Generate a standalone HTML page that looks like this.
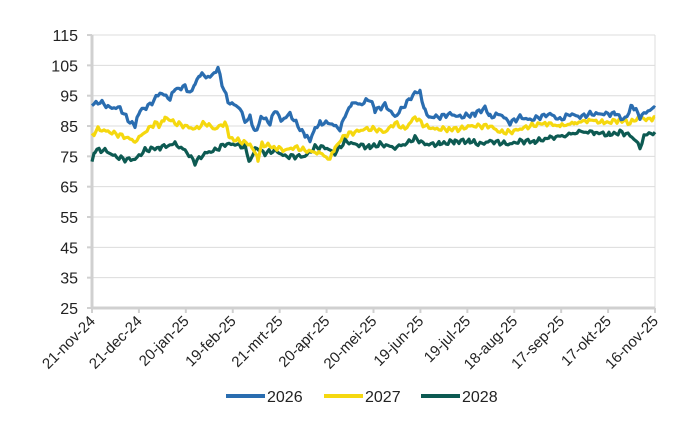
<!DOCTYPE html>
<html><head><meta charset="utf-8"><style>
html,body{margin:0;padding:0;background:#fff;width:700px;height:430px;overflow:hidden}
text{font-family:"Liberation Sans",Arial,sans-serif;fill:#222}
</style></head><body>
<svg id="s" width="700" height="430" xmlns="http://www.w3.org/2000/svg">
<g id="grid"></g>
<g id="series"></g>
<g id="legend">
<line x1="226" y1="396" x2="265" y2="396" stroke="#2a6db0" stroke-width="4"/>
<text x="267" y="402" font-size="16">2026</text>
<line x1="324" y1="396" x2="363" y2="396" stroke="#f5d80f" stroke-width="4"/>
<text x="365" y="402" font-size="16">2027</text>
<line x1="421" y1="396" x2="460" y2="396" stroke="#0d5a52" stroke-width="4"/>
<text x="462" y="402" font-size="16">2028</text>
</g>
</svg>
<script>
var ns="http://www.w3.org/2000/svg";
function el(t,a,p){var e=document.createElementNS(ns,t);for(var k in a)e.setAttribute(k,a[k]);p.appendChild(e);return e;}
var g=document.getElementById('grid');
var X0=92,X1=655;
function Y(v){return 308-(v-25)*3.033;}
for(var v=25;v<=115;v+=10){
  var y=Y(v);
  if(v>25) el('line',{x1:X0,y1:y,x2:X1,y2:y,stroke:'#dcdcdc','stroke-width':1},g);
  el('line',{x1:X0-5,y1:y,x2:X0,y2:y,stroke:'#d0d0d0','stroke-width':2},g);
  var t=el('text',{x:78,y:y+6,'font-size':16,'text-anchor':'end'},g);t.textContent=v;
}
el('line',{x1:X0,y1:Y(115),x2:X0,y2:Y(25),stroke:'#d0d0d0','stroke-width':3},g);
el('line',{x1:X1,y1:Y(115),x2:X1,y2:Y(25),stroke:'#dcdcdc','stroke-width':1},g);
el('line',{x1:X0,y1:Y(25),x2:X1,y2:Y(25),stroke:'#d0d0d0','stroke-width':3},g);
var labs=['21-nov-24','21-dec-24','20-jan-25','19-feb-25','21-mrt-25','20-apr-25','20-mei-25','19-jun-25','19-jul-25','18-aug-25','17-sep-25','17-okt-25','16-nov-25'];
for(var i=0;i<13;i++){
  var x=X0+i*(X1-X0)/12;
  el('line',{x1:x,y1:Y(25),x2:x,y2:Y(25)+5,stroke:'#d0d0d0','stroke-width':2},g);
  var t=el('text',{x:x+4,y:Y(25)+14,'font-size':15,'text-anchor':'end',transform:'rotate(-45 '+(x+4)+' '+(Y(25)+14)+')'},g);t.textContent=labs[i];
}
var d26=[[92,92],[100,93],[110,91],[120,91],[128,87],[135,85],[140,90],[150,92],[160,96],[170,94],[175,97],[185,98],[190,96],[195,99],[200,102],[210,101],[218,104],[222,99],[228,93],[240,91],[245,86],[250,88],[255,83],[262,88],[270,86],[275,90],[282,87],[290,89],[298,85],[305,82],[310,80],[315,84],[320,86],[330,86],[340,84],[345,88],[352,93],[360,92],[370,94],[375,90],[385,92],[395,88],[405,92],[415,96],[420,96],[425,90],[430,88],[440,88],[450,89],[460,88],[475,89],[485,91],[490,88],[500,89],[510,86],[520,88],[530,87],[540,88],[550,89],[560,87],[570,89],[580,88],[590,89],[600,89],[615,89],[625,87],[632,92],[640,88],[648,90],[655,91]];
var d27=[[92,82],[98,84],[110,83],[120,82],[128,81],[135,80],[145,83],[155,86],[160,85],[165,88],[175,86],[185,85],[195,84],[205,86],[215,84],[225,86],[230,81],[240,80],[250,79],[255,76],[258,74],[262,79],[275,78],[285,77],[295,78],[305,77],[320,76],[330,74],[335,78],[345,82],[355,83],[365,84],[375,84],[385,83],[395,86],[405,84],[415,88],[425,85],[435,84],[450,84],[460,84],[470,85],[480,85],[490,85],[500,83],[510,83],[520,84],[530,85],[545,86],[560,85],[575,86],[590,87],[605,86],[620,87],[630,86],[640,88],[648,87],[655,88]];
var d28=[[92,73],[95,77],[105,77],[115,75],[125,74],[135,74],[145,77],[160,78],[175,79],[185,77],[195,73],[205,76],[215,77],[225,79],[235,79],[245,78],[250,73],[255,78],[265,76],[275,77],[285,75],[295,75],[305,75],[315,78],[325,78],[335,76],[345,80],[355,79],[370,78],[380,79],[395,78],[405,79],[415,81],[425,79],[440,79],[455,80],[470,80],[480,79],[490,80],[510,79],[520,80],[535,80],[550,81],[565,82],[580,83],[595,83],[610,82],[620,83],[630,82],[636,80],[640,78],[645,82],[655,83]];
var sg=document.getElementById('series');
function draw(d,c,seed){
  var pts=[];
  for(var i=0;i<d.length-1;i++){
    var a=d[i],b=d[i+1];
    for(var x=a[0];x<b[0];x+=2){
      var f=(x-a[0])/(b[0]-a[0]);
      var v=a[1]+(b[1]-a[1])*f+0.9*Math.sin(x*1.7+seed)*Math.cos(x*0.63+seed*2);
      pts.push(x+','+Y(v).toFixed(1));
    }
  }
  var l=d[d.length-1];pts.push(l[0]+','+Y(l[1]).toFixed(1));
  el('polyline',{points:pts.join(' '),fill:'none',stroke:c,'stroke-width':3.2,'stroke-linejoin':'round'},sg);
}
draw(d28,'#0d5a52',3);
draw(d27,'#f5d80f',2);
draw(d26,'#2a6db0',1);
</script>
</body></html>
